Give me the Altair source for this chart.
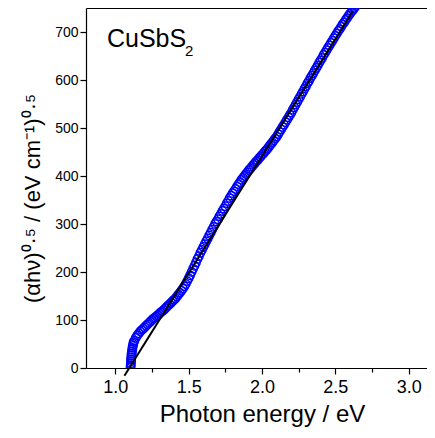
import altair as alt
import pandas as pd

# Measured band (photon energy in eV, (alpha h nu)^0.5)
energy = [
    1.104, 1.105, 1.106, 1.107, 1.108, 1.109, 1.110, 1.111, 1.113, 1.115, 1.117, 1.119, 1.122, 1.125,
    1.13, 1.14, 1.15, 1.16, 1.17, 1.18, 1.19, 1.20,
    1.21, 1.22, 1.23, 1.24, 1.25, 1.26, 1.27, 1.28, 1.29, 1.30,
    1.31, 1.32, 1.33, 1.34, 1.35, 1.36, 1.37, 1.38, 1.39, 1.40,
    1.41, 1.42, 1.43, 1.44, 1.45, 1.46, 1.47, 1.48, 1.49, 1.50,
    1.51, 1.52, 1.53, 1.54, 1.55, 1.56, 1.57, 1.58, 1.59, 1.60,
    1.61, 1.62, 1.63, 1.64, 1.65, 1.66, 1.67, 1.68, 1.69, 1.70,
    1.71, 1.72, 1.73, 1.74, 1.75, 1.76, 1.77, 1.78, 1.79, 1.80,
    1.81, 1.82, 1.83, 1.84, 1.85, 1.86, 1.87, 1.88, 1.89, 1.90,
    1.91, 1.92, 1.93, 1.94, 1.95, 1.96, 1.97, 1.98, 1.99, 2.00,
    2.01, 2.02, 2.03, 2.04, 2.05, 2.06, 2.07, 2.08, 2.09, 2.10,
    2.11, 2.12, 2.13, 2.14, 2.15, 2.16, 2.17, 2.18, 2.19, 2.20,
    2.21, 2.22, 2.23, 2.24, 2.25, 2.26, 2.27, 2.28, 2.29, 2.30,
    2.31, 2.32, 2.33, 2.34, 2.35, 2.36, 2.37, 2.38, 2.39, 2.40,
    2.41, 2.42, 2.43, 2.44, 2.45, 2.46, 2.47, 2.48, 2.49, 2.50,
    2.51, 2.52, 2.53, 2.54, 2.55, 2.56, 2.57, 2.58, 2.59, 2.60,
    2.61, 2.62, 2.63, 2.64, 2.65, 2.66, 2.67, 2.68,
]
sqrt_ahv = [
    2, 6, 10, 14, 18, 22, 26, 30, 34, 38, 42, 46, 50, 54,
    57, 63, 68, 72, 76, 79, 82, 85,
    88, 91, 94, 97, 100, 103, 105, 108, 110, 113,
    116, 118, 121, 124, 127, 130, 133, 136, 139, 142,
    145, 149, 153, 157, 161, 165, 170, 175, 181, 187,
    193, 200, 207, 213, 220, 227, 233, 240, 246, 252,
    258, 264, 270, 276, 282, 288, 294, 300, 305, 310,
    316, 321, 327, 332, 337, 343, 348, 354, 359, 364,
    368, 373, 378, 383, 387, 392, 396, 400, 404, 408,
    412, 415, 419, 423, 426, 430, 433, 437, 440, 444,
    447, 451, 454, 458, 462, 466, 470, 474, 478, 482,
    487, 492, 497, 502, 507, 512, 517, 522, 527, 532,
    538, 543, 549, 554, 560, 565, 571, 576, 582, 587,
    593, 598, 604, 609, 614, 620, 625, 630, 636, 641,
    646, 652, 657, 662, 667, 672, 677, 682, 687, 692,
    697, 702, 706, 711, 716, 720, 725, 729, 734, 738,
    742, 746, 750, 754, 758, 762, 766, 770,
]

# Linear Tauc fit (end points)
fit_energy = [1.062, 2.618]
fit_value = [-16, 743]

# Annotation
label_main = ["CuSbS"]
label_sub = ["2"]
label_main_pos = [0.943, 669]
label_sub_pos = [1.475, 650]

x_ticks = [1.0, 1.25, 1.5, 1.75, 2.0, 2.25, 2.5, 2.75, 3.0]
y_ticks = [0, 50, 100, 150, 200, 250, 300, 350, 400, 450, 500, 550, 600, 650, 700, 750]

df = pd.DataFrame({"E": energy, "V": sqrt_ahv})
fit = pd.DataFrame({"E": fit_energy, "V": fit_value})
lab1 = pd.DataFrame({"E": [label_main_pos[0]], "V": [label_main_pos[1]], "t": label_main})
lab2 = pd.DataFrame({"E": [label_sub_pos[0]], "V": [label_sub_pos[1]], "t": label_sub})

FONT = "Liberation Sans"
xdom = [0.8, 3.125]
ydom = [0, 750]

major_x = "abs(datum.value * 2 - round(datum.value * 2)) < 0.001"
major_y = "datum.value % 100 === 0"

x_axis = alt.Axis(
    orient="bottom", values=x_ticks, grid=False,
    labelExpr=f"{major_x} ? format(datum.value, '.1f') : ''",
    tickSize={"condition": {"test": major_x, "value": 6}, "value": 4},
    labelFontSize=18, labelFont=FONT, labelColor="black", labelPadding=4,
    labelOverlap=False, labelFlush=False,
    domainColor="black", domainWidth=1.2, tickColor="black", tickWidth=1.2,
    title="Photon energy / eV", titleFont=FONT, titleFontSize=24,
    titleFontWeight="normal", titleColor="black",
    titleBaseline="alphabetic", titleAlign="center", titleX=176, titleY=53,
)
y_axis = alt.Axis(
    orient="left", values=y_ticks, grid=False,
    labelExpr=f"{major_y} ? datum.value : ''",
    tickSize={"condition": {"test": major_y, "value": 6}, "value": 4},
    labelFontSize=14, labelFont=FONT, labelColor="black", labelPadding=2,
    labelOverlap=False, labelFlush=False, labelBaseline="middle",
    domainColor="black", domainWidth=1.2, tickColor="black", tickWidth=1.2,
    title="(αhν)⁰·⁵ / (eV cm⁻¹)⁰·⁵", titleFont=FONT, titleFontSize=22,
    titleFontWeight="normal", titleColor="black",
    titleBaseline="alphabetic", titleAlign="center", titleAngle=270,
    titleX=-47, titleY=190,
)
top_axis = alt.Axis(
    orient="top", values=x_ticks, grid=False, labels=False, title=None,
    tickSize=2, domainColor="black", domainWidth=1.2, tickColor="black", tickWidth=1,
)

xs = alt.Scale(domain=xdom, nice=False, zero=False)
ys = alt.Scale(domain=ydom, nice=False, zero=False)

points = alt.Chart(df).mark_point(
    shape="circle", filled=False, size=70, strokeWidth=1.5, color="#0000ff", opacity=1, clip=True
).encode(
    x=alt.X("E:Q", scale=xs, axis=x_axis),
    y=alt.Y("V:Q", scale=ys, axis=y_axis),
)

line = alt.Chart(fit).mark_line(color="black", strokeWidth=2, clip=False).encode(
    x=alt.X("E:Q", scale=xs, axis=top_axis),
    y=alt.Y("V:Q", scale=ys),
)

t1 = alt.Chart(lab1).mark_text(
    font=FONT, fontSize=25, align="left", baseline="alphabetic", color="black"
).encode(x=alt.X("E:Q", scale=xs, axis=None), y=alt.Y("V:Q", scale=ys), text="t:N")

t2 = alt.Chart(lab2).mark_text(
    font=FONT, fontSize=15, align="left", baseline="alphabetic", color="black"
).encode(x=alt.X("E:Q", scale=xs, axis=None), y=alt.Y("V:Q", scale=ys), text="t:N")

chart = alt.layer(points, line, t1, t2).resolve_axis(x="independent").properties(
    width=341, height=360,
    autosize=alt.AutoSizeParams(type="none"),
    padding={"left": 78, "top": 0, "right": 0, "bottom": 59},
).configure_view(stroke=None)

chart.save("out.html", embed_options={"renderer": "svg", "actions": False})
